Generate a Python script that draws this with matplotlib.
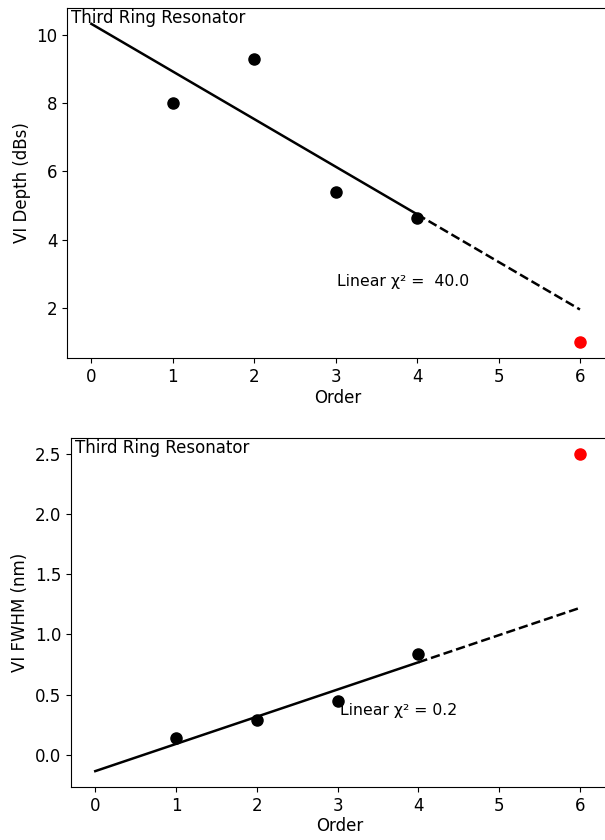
import numpy as np
import matplotlib
matplotlib.use('Agg')
import matplotlib.pyplot as plt

plt.rcParams['font.size'] = 12

# measured data (orders 1-4 fitted, order 6 is the third ring resonator)
order = np.array([1, 2, 3, 4])
depth = np.array([8.0, 9.3, 5.4, 4.65])
fwhm = np.array([0.14, 0.29, 0.45, 0.84])
ring_order = 6
ring_depth = 1.0
ring_fwhm = 2.5
chi_depth = 40.0
chi_fwhm = 0.2

x_fit = np.array([0, 4])
x_ext = np.array([4, 6])

fig = plt.figure(figsize=(6.05, 8.4), dpi=100)

# Top: depth
ax1 = fig.add_axes([0.1107, 0.5738, 0.895, 0.4167])
p = np.polyfit(order, depth, 1)
ax1.plot(x_fit, np.polyval(p, x_fit), 'k-', linewidth=1.8)
ax1.plot(x_ext, np.polyval(p, x_ext), 'k--', linewidth=1.8)
ax1.plot(order, depth, 'ko', markersize=8)
ax1.plot(ring_order, ring_depth, 'ro', markersize=8)
ax1.text(0.008, 0.998, 'Third Ring Resonator', transform=ax1.transAxes,
         ha='left', va='top')
ax1.text(3.02, 2.77, 'Linear χ² =  %.1f' % chi_depth, ha='left', va='center',
         fontsize=11.3)
ax1.set_xlabel('Order', labelpad=2)
ax1.set_ylabel('VI Depth (dBs)')
ax1.set_xticks(range(0, 7))
ax1.set_xlim(-0.3, 6.35)

# Bottom: FWHM
ax2 = fig.add_axes([0.1174, 0.0631, 0.888, 0.4155])
q = np.polyfit(order, fwhm, 1)
ax2.plot(x_fit, np.polyval(q, x_fit), 'k-', linewidth=1.8)
ax2.plot(x_ext, np.polyval(q, x_ext), 'k--', linewidth=1.8)
ax2.plot(order, fwhm, 'ko', markersize=8)
ax2.plot(ring_order, ring_fwhm, 'ro', markersize=8)
ax2.text(0.008, 0.998, 'Third Ring Resonator', transform=ax2.transAxes,
         ha='left', va='top')
ax2.text(3.03, 0.37, 'Linear χ² = %.1f' % chi_fwhm, ha='left', va='center',
         fontsize=11.3)
ax2.set_xlabel('Order', labelpad=2)
ax2.set_ylabel('VI FWHM (nm)')
ax2.set_xticks(range(0, 7))
ax2.set_xlim(-0.3, 6.35)

fig.savefig('out.png', dpi=100)
